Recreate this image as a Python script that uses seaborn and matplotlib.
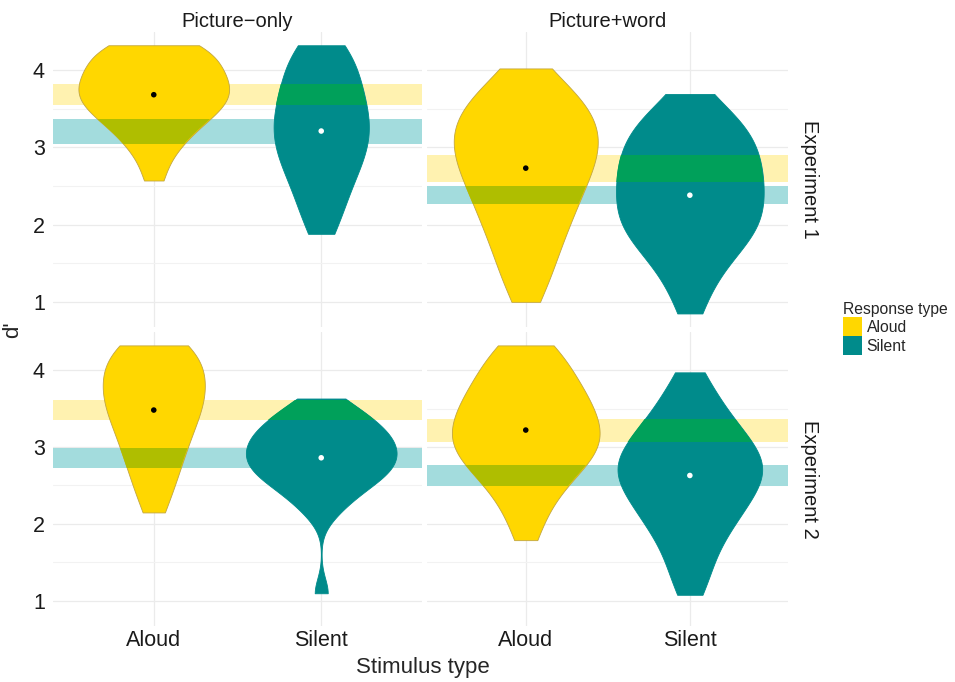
import numpy as np
import pandas as pd
import seaborn as sns
import matplotlib.pyplot as plt
from matplotlib.patches import Patch

# d' per participant, one list per panel and stimulus type
exp1_pic_aloud = [4.32, 4.32, 4.32, 4.26, 4.2, 4.14, 4.09, 4.04, 3.99, 3.95, 3.9, 3.86, 3.82, 3.78, 3.74,
                  3.7, 3.66, 3.62, 3.58, 3.54, 3.5, 3.45, 3.4, 3.34, 3.28, 3.2, 3.11, 3.0, 2.85, 2.57]
exp1_pic_silent = [4.32, 4.32, 4.22, 4.13, 4.04, 3.96, 3.88, 3.8, 3.73, 3.66, 3.59, 3.52, 3.46, 3.4, 3.34,
                   3.28, 3.22, 3.16, 3.1, 3.04, 2.98, 2.92, 2.85, 2.78, 2.7, 2.62, 2.53, 2.43, 2.31, 2.17,
                   2.03, 1.88]
exp1_word_aloud = [4.02, 3.9, 3.8, 3.72, 3.65, 3.59, 3.53, 3.47, 3.42, 3.37, 3.32, 3.27, 3.22, 3.17, 3.12,
                   3.07, 3.02, 2.97, 2.92, 2.87, 2.82, 2.77, 2.71, 2.65, 2.59, 2.53, 2.47, 2.4, 2.33, 2.26,
                   2.18, 2.1, 2.02, 1.93, 1.84, 1.73, 1.62, 1.49, 1.35, 1.2, 1.0]
exp1_word_silent = [3.69, 3.55, 3.45, 3.37, 3.3, 3.24, 3.18, 3.12, 3.06, 3.0, 2.95, 2.89, 2.84, 2.78, 2.73,
                    2.68, 2.62, 2.57, 2.52, 2.46, 2.41, 2.36, 2.31, 2.25, 2.2, 2.15, 2.1, 2.04, 1.99, 1.94,
                    1.89, 1.83, 1.77, 1.7, 1.62, 1.53, 1.42, 1.28, 1.1, 0.85]
exp2_pic_aloud = [4.32, 4.32, 4.32, 4.24, 4.16, 4.09, 4.02, 3.96, 3.9, 3.84, 3.78, 3.72, 3.66, 3.6, 3.54,
                  3.48, 3.41, 3.34, 3.26, 3.18, 3.09, 3.0, 2.9, 2.79, 2.67, 2.53, 2.38, 2.15]
exp2_pic_silent = [3.63, 3.53, 3.45, 3.39, 3.33, 3.28, 3.23, 3.18, 3.14, 3.1, 3.06, 3.02, 2.98, 2.94, 2.9,
                   2.86, 2.82, 2.78, 2.74, 2.7, 2.66, 2.62, 2.57, 2.51, 2.45, 2.37, 2.27, 2.12, 1.1]
exp2_word_aloud = [4.32, 4.32, 4.2, 4.1, 4.01, 3.93, 3.86, 3.79, 3.73, 3.67, 3.61, 3.55, 3.5, 3.45, 3.4,
                   3.35, 3.3, 3.25, 3.2, 3.15, 3.11, 3.06, 3.02, 2.97, 2.93, 2.88, 2.83, 2.77, 2.71, 2.64,
                   2.56, 2.47, 2.36, 2.22, 2.05, 1.79]
exp2_word_silent = [3.97, 3.8, 3.66, 3.55, 3.45, 3.37, 3.3, 3.23, 3.17, 3.11, 3.06, 3.01, 2.96, 2.91, 2.87,
                    2.83, 2.79, 2.75, 2.71, 2.67, 2.63, 2.59, 2.55, 2.5, 2.45, 2.4, 2.35, 2.3, 2.24, 2.18,
                    2.12, 2.05, 1.98, 1.9, 1.81, 1.7, 1.57, 1.42, 1.26, 1.08]

experiments = ["Experiment 1", "Experiment 2"]
conditions = ["Picture\u2212only", "Picture+word"]
stim_types = ["Aloud", "Silent"]

# panel order: exp1 picture-only, exp1 picture+word, exp2 picture-only, exp2 picture+word
mean_aloud = [3.68, 2.73, 3.48, 3.22]
mean_silent = [3.21, 2.38, 2.86, 2.63]
band_lo_aloud = [3.55, 2.55, 3.35, 3.06]
band_hi_aloud = [3.82, 2.90, 3.61, 3.37]
band_lo_silent = [3.04, 2.26, 2.73, 2.49]
band_hi_silent = [3.37, 2.50, 2.99, 2.77]

gold = "#FFD700"
teal = "#008B8B"
band_yellow = "#FFF2B0"
band_teal = "#A3DCDD"
overlap_green = "#00A05A"     # yellow band over the teal violin
overlap_olive = "#AFBE00"     # teal band over the gold violin
palette = {"Aloud": gold, "Silent": teal}

groups = [
    ("Experiment 1", conditions[0], exp1_pic_aloud, exp1_pic_silent),
    ("Experiment 1", conditions[1], exp1_word_aloud, exp1_word_silent),
    ("Experiment 2", conditions[0], exp2_pic_aloud, exp2_pic_silent),
    ("Experiment 2", conditions[1], exp2_word_aloud, exp2_word_silent),
]
rows = []
for exp, cond, aloud, silent in groups:
    rows += [(exp, cond, "Aloud", v) for v in aloud]
    rows += [(exp, cond, "Silent", v) for v in silent]
df = pd.DataFrame(rows, columns=["Experiment", "Condition", "Stimulus type", "d'"])


def nrd0(kde):
    # R's default bandwidth (bw.nrd0), given to scipy as a factor of the sd
    x = kde.dataset[0]
    sd = x.std(ddof=1)
    iqr = np.subtract(*np.percentile(x, [75, 25]))
    bw = 0.9 * min(sd, iqr / 1.34) * len(x) ** -0.2
    return bw / sd


sns.set_style("white")
plt.rcParams['font.family'] = ['Liberation Sans', 'DejaVu Sans']

W, H = 955, 682
fig = plt.figure(figsize=(W / 100, H / 100), dpi=100)


def px_axes(left, top, right, bottom):
    return fig.add_axes([left / W, 1 - bottom / H, (right - left) / W, (bottom - top) / H])


cols_px = [(53.3, 421.7), (427.3, 788.3)]
rows_px = [(32.1, 326.6), (332.3, 625.6)]

for i, exp in enumerate(experiments):
    for j, cond in enumerate(conditions):
        k = i * 2 + j
        ax = px_axes(cols_px[j][0], rows_px[i][0], cols_px[j][1], rows_px[i][1])
        sub = df[(df["Experiment"] == exp) & (df["Condition"] == cond)]
        sns.violinplot(data=sub, x="Stimulus type", y="d'", hue="Stimulus type",
                       order=stim_types, hue_order=stim_types, palette=palette, saturation=1,
                       cut=0, inner=None, density_norm="area", common_norm=True, bw_method=nrd0,
                       width=0.9, linewidth=0.6, legend=False, ax=ax)

        violins = sorted(ax.collections, key=lambda c: c.get_paths()[0].vertices[:, 0].mean())
        v_aloud, v_silent = violins[0], violins[1]
        v_aloud.set_edgecolor("#C2A640")
        v_silent.set_edgecolor(teal)

        # interval bands behind the violins
        ax.axhspan(band_lo_aloud[k], band_hi_aloud[k], color=band_yellow, lw=0, zorder=0.6)
        ax.axhspan(band_lo_silent[k], band_hi_silent[k], color=band_teal, lw=0, zorder=0.6)
        # where a band crosses the other colour's violin
        r = ax.axhspan(band_lo_aloud[k], band_hi_aloud[k], color=overlap_green, lw=0, zorder=2)
        r.set_clip_path(v_silent.get_paths()[0], ax.transData)
        r = ax.axhspan(band_lo_silent[k], band_hi_silent[k], color=overlap_olive, lw=0, zorder=2)
        r.set_clip_path(v_aloud.get_paths()[0], ax.transData)

        ax.scatter([0, 1], [mean_aloud[k], mean_silent[k]], s=16, c=["black", "white"], lw=0, zorder=4)

        ax.set_xlim(-0.6, 1.6)
        ax.set_ylim(0.68, 4.49)
        ax.set_yticks([1, 2, 3, 4])
        ax.set_yticks([1.5, 2.5, 3.5], minor=True)
        ax.set_axisbelow(True)
        ax.grid(True, which="major", color="#EBEBEB", lw=0.9)
        ax.grid(True, which="minor", axis="y", color="#F2F2F2", lw=0.8)
        ax.set_xlabel("")
        ax.set_ylabel("")
        for s in ax.spines.values():
            s.set_visible(False)
        ax.tick_params(which="both", length=0, labelsize=15.5, labelcolor="#1a1a1a")
        ax.tick_params(axis="y", pad=6)
        ax.tick_params(axis="x", pad=3)
        if j == 1:
            ax.tick_params(labelleft=False)
        if i == 0:
            ax.tick_params(labelbottom=False)

# facet strips
for j, cond in enumerate(conditions):
    xc = (cols_px[j][0] + cols_px[j][1]) / 2
    fig.text(xc / W, 1 - 26.7 / H, cond, ha="center", va="baseline", fontsize=14.5, color="#1a1a1a")
for i, exp in enumerate(experiments):
    yc = (rows_px[i][0] + rows_px[i][1]) / 2
    fig.text(809 / W, 1 - yc / H, exp, ha="center", va="center", rotation=-90, fontsize=14.5,
             color="#1a1a1a")

fig.text(423 / W, 1 - 672.5 / H, "Stimulus type", ha="center", va="baseline", fontsize=16)
fig.text(13 / W, 1 - 330 / H, "d'", ha="center", va="center", rotation=90, fontsize=16)

handles = [Patch(facecolor=palette[s], edgecolor="none", label=s) for s in stim_types]
fig.legend(handles=handles, title="Response type", loc="upper left",
           bbox_to_anchor=(843 / W, 1 - 302 / H), frameon=False, fontsize=11.3,
           title_fontsize=11.3, handlelength=1.2, handleheight=1.49, labelspacing=0,
           handletextpad=0.3, borderpad=0, borderaxespad=0, alignment="left")

fig.savefig("out.png", dpi=100)
